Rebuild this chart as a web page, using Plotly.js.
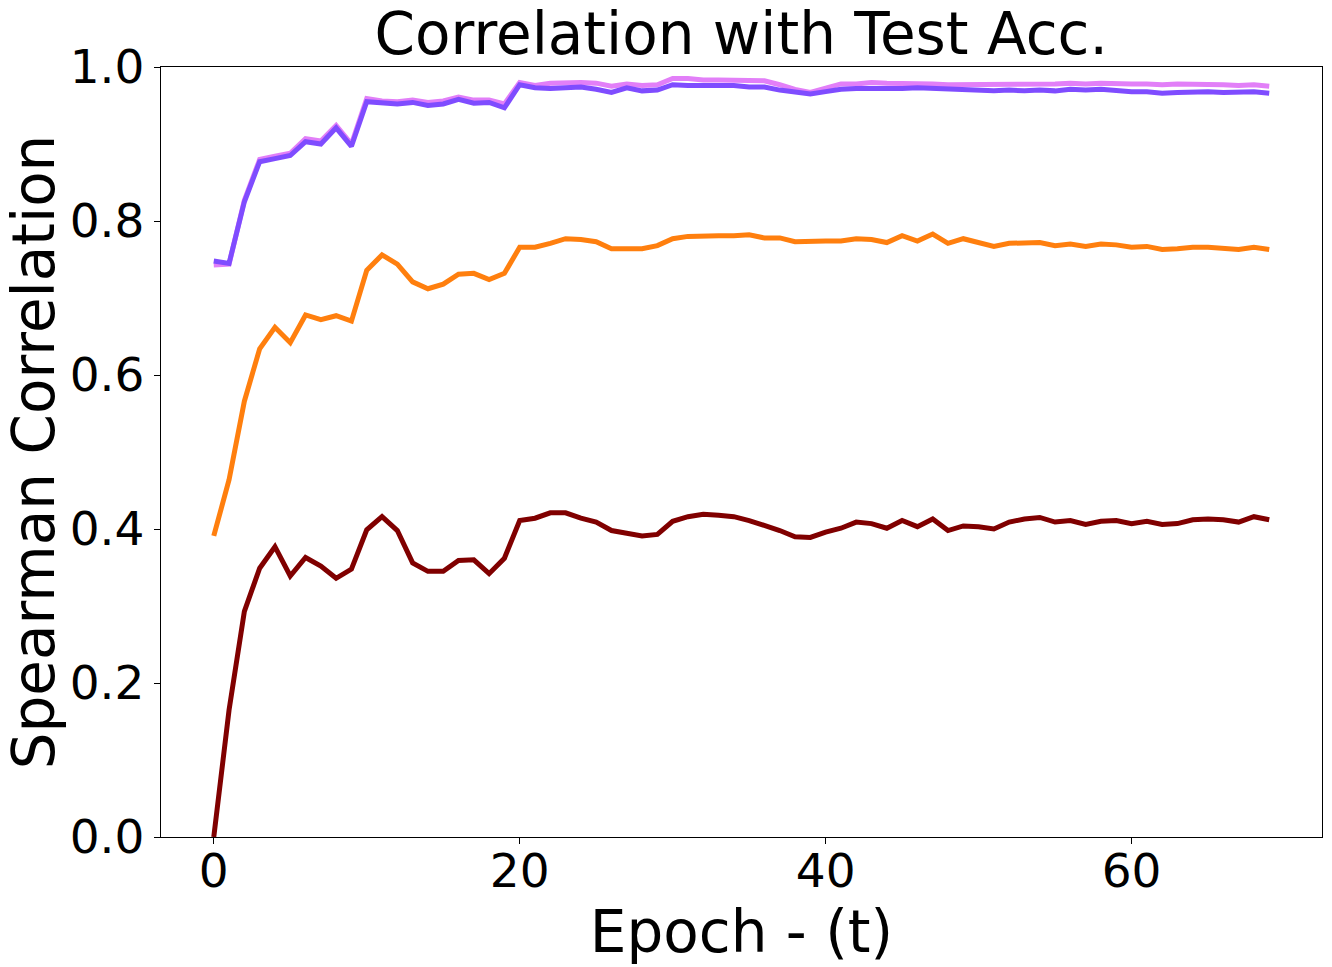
<!DOCTYPE html>
<html>
<head>
<meta charset="utf-8">
<script src="https://cdn.plot.ly/plotly-3.0.1.min.js"></script>
<style>html,body{margin:0;padding:0;background:#fff;}#chart{width:1332px;height:967px;}</style>
</head>
<body>
<div id="chart"></div>
<script>
const epochs = Array.from({length: 70}, (_, i) => i);

const pinkSeries = [0.743,0.744,0.827,0.880,0.884,0.888,0.907,0.904,0.924,0.900,
  0.959,0.956,0.955,0.957,0.954,0.956,0.961,0.957,0.957,0.952,
  0.980,0.976,0.979,0.980,0.980,0.979,0.975,0.978,0.976,0.977,
  0.985,0.985,0.983,0.983,0.983,0.982,0.982,0.977,0.971,0.967,
  0.973,0.978,0.978,0.980,0.979,0.979,0.979,0.978,0.977,0.977,
  0.977,0.977,0.977,0.978,0.978,0.978,0.979,0.978,0.979,0.978,
  0.978,0.978,0.977,0.978,0.978,0.978,0.977,0.976,0.977,0.975];

const purpleSeries = [0.748,0.745,0.825,0.877,0.881,0.885,0.903,0.900,0.921,0.897,
  0.955,0.953,0.952,0.954,0.950,0.952,0.958,0.953,0.954,0.947,
  0.977,0.973,0.972,0.973,0.974,0.971,0.967,0.973,0.969,0.970,
  0.977,0.976,0.976,0.976,0.976,0.974,0.974,0.970,0.967,0.965,
  0.968,0.971,0.972,0.972,0.971,0.972,0.973,0.972,0.972,0.971,
  0.969,0.969,0.970,0.969,0.970,0.969,0.971,0.970,0.971,0.969,
  0.968,0.968,0.966,0.967,0.968,0.968,0.967,0.967,0.968,0.966];

const orangeSeries = [0.391,0.464,0.566,0.634,0.662,0.642,0.678,0.672,0.677,0.670,
  0.736,0.756,0.744,0.721,0.712,0.718,0.731,0.732,0.724,0.732,
  0.766,0.766,0.771,0.777,0.776,0.773,0.764,0.764,0.764,0.768,
  0.777,0.780,0.781,0.781,0.781,0.782,0.778,0.778,0.773,0.774,
  0.774,0.774,0.777,0.776,0.772,0.781,0.774,0.783,0.771,0.777,
  0.772,0.767,0.771,0.772,0.772,0.768,0.770,0.767,0.770,0.769,
  0.766,0.767,0.763,0.764,0.766,0.766,0.765,0.763,0.766,0.763];

const darkRedSeries = [0.000,0.165,0.293,0.349,0.377,0.339,0.363,0.352,0.336,0.348,
  0.399,0.416,0.398,0.356,0.345,0.345,0.359,0.360,0.342,0.362,
  0.411,0.414,0.421,0.421,0.414,0.409,0.398,0.395,0.391,0.393,
  0.410,0.416,0.419,0.418,0.416,0.411,0.405,0.398,0.390,0.389,
  0.396,0.401,0.409,0.407,0.401,0.411,0.403,0.413,0.398,0.404,
  0.403,0.400,0.409,0.413,0.415,0.409,0.411,0.406,0.410,0.411,
  0.407,0.410,0.406,0.407,0.412,0.413,0.412,0.409,0.416,0.412];

const yTicks = [0.0, 0.2, 0.4, 0.6, 0.8, 1.0];
const yTickText = ['0.0', '0.2', '0.4', '0.6', '0.8', '1.0'];
const xTicks = [0, 20, 40, 60];

const lw = 5;
const traces = [
  {x: epochs, y: darkRedSeries, mode: 'lines', line: {color: '#800000', width: lw}},
  {x: epochs, y: orangeSeries, mode: 'lines', line: {color: '#ff7f0e', width: lw}},
  {x: epochs, y: pinkSeries, mode: 'lines', line: {color: '#e27ff8', width: lw}},
  {x: epochs, y: purpleSeries, mode: 'lines', line: {color: '#7f4cff', width: lw}}
];

const font = {family: 'DejaVu Sans', color: '#000'};
const layout = {
  width: 1332, height: 967,
  margin: {l: 161, r: 10, t: 67, b: 130},
  paper_bgcolor: '#fff', plot_bgcolor: '#fff',
  showlegend: false,
  font: font,
  title: {text: 'Correlation with Test Acc.', font: {family: 'DejaVu Sans', size: 58, color: '#000'},
          x: 0.5565, xanchor: 'center', y: 0.9866, yanchor: 'top'},
  xaxis: {
    range: [-3.45, 72.45], tickvals: xTicks, ticktext: xTicks.map(String),
    ticks: 'outside', ticklen: 6, tickwidth: 1, tickcolor: '#000',
    ticklabelstandoff: -14,
    showline: true, linecolor: '#000', linewidth: 1.2, mirror: true,
    showgrid: false, zeroline: false,
    tickfont: {family: 'DejaVu Sans', size: 47, color: '#000'},
    title: {text: 'Epoch - (t)', font: {family: 'DejaVu Sans', size: 58, color: '#000'}, standoff: 2}
  },
  yaxis: {
    range: [0, 1], tickvals: yTicks, ticktext: yTickText,
    ticks: 'outside', ticklen: 6, tickwidth: 1, tickcolor: '#000',
    showline: true, linecolor: '#000', linewidth: 1.2, mirror: true,
    showgrid: false, zeroline: false,
    tickfont: {family: 'DejaVu Sans', size: 47, color: '#000'},
    title: {text: 'Spearman Correlation', font: {family: 'DejaVu Sans', size: 58, color: '#000'}, standoff: 12}
  }
};

Plotly.newPlot('chart', traces, layout, {displayModeBar: false, staticPlot: true});
</script>
</body>
</html>
